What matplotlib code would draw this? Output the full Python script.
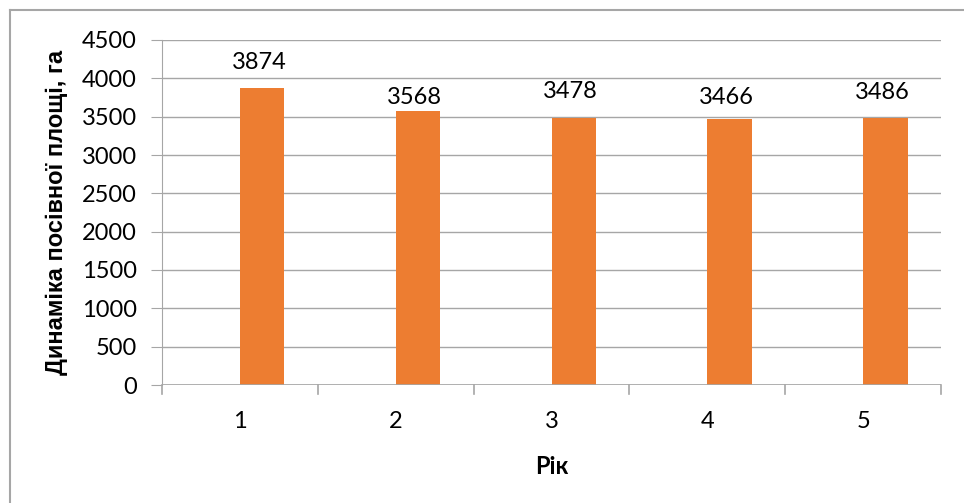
import numpy as np
import matplotlib.pyplot as plt
from matplotlib.lines import Line2D

plt.rcParams['font.family'] = ['Lato', 'Open Sans', 'DejaVu Sans']

# рік та посівна площа
years = [1, 2, 3, 4, 5]
area = [3874, 3568, 3478, 3466, 3486]
year_series = [1, 2, 3, 4, 5]
# зсув підписів над стовпчиками, pt
label_dy = [18, 10, 19, 16, 18]

fig = plt.figure(figsize=(9.64, 5.03), dpi=100)
ax = fig.add_axes([162/964, 1-385/503, (941-162)/964, (385-40)/503])

x = np.arange(len(years))
w = 0.285
ax.bar(x - w/2, year_series, w, color='#5B9BD5', zorder=3)
ax.bar(x + w/2, area, w, color='#ED7D31', zorder=3)

for i in range(len(area)):
    ax.annotate(str(area[i]), (x[i] + w/2 - 0.02, area[i]), xytext=(0, label_dy[i]),
                textcoords='offset points', ha='center', va='center', fontsize=17)

ax.set_xlim(-0.5, len(years) - 0.5)
ax.set_ylim(0, 4500)
ax.set_yticks(range(0, 4501, 500))
ax.set_xticks(x)
ax.set_xticklabels([str(y) for y in years])
ax.yaxis.grid(True, color='#A6A6A6', linewidth=1, zorder=0)
ax.set_axisbelow(True)
for s in ['top', 'right', 'bottom']:
    ax.spines[s].set_visible(False)
ax.spines['left'].set_color('#A6A6A6')
ax.tick_params(axis='y', length=8, color='#A6A6A6', labelsize=17, pad=10)
ax.tick_params(axis='x', length=0, labelsize=17, pad=19)
ax.axhline(0, color='#A6A6A6', linewidth=1.2, zorder=4)
# засічки між категоріями
for b in np.arange(-0.5, len(years), 1.0):
    ax.plot([b, b], [0, -0.025], transform=ax.get_xaxis_transform(),
            color='#A6A6A6', linewidth=1.2, clip_on=False)

ax.set_ylabel('Динаміка посівної площі, га', fontsize=17, fontweight='bold',
              family=['Liberation Sans', 'DejaVu Sans'], labelpad=10)
ax.set_xlabel('Рік', fontsize=17, fontweight='bold', labelpad=16)

# рамка діаграми
fig.add_artist(Line2D([10/964, 10/964], [0, 1-10/503], color='#A6A6A6', linewidth=1.5, transform=fig.transFigure))
fig.add_artist(Line2D([10/964, 1], [1-10/503, 1-10/503], color='#A6A6A6', linewidth=1.5, transform=fig.transFigure))

fig.savefig('out.png', dpi=100)
